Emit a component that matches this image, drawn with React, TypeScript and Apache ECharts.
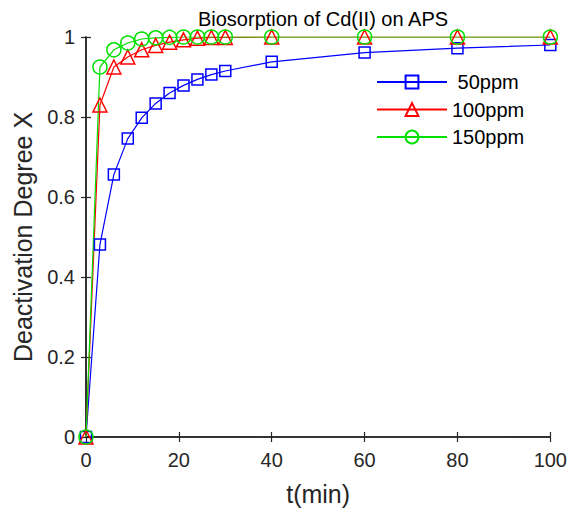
import React, { useEffect, useRef } from "react";
import * as echarts from "echarts";

const times = [0, 3, 6, 9, 12, 15, 18, 21, 24, 27, 30, 40, 60, 80, 100];
const ppm50 = [0, 0.481, 0.656, 0.746, 0.798, 0.834, 0.86, 0.879, 0.894, 0.906, 0.915, 0.938, 0.961, 0.972, 0.98];
const ppm100 = [0, 0.83, 0.925, 0.95, 0.968, 0.979, 0.987, 0.993, 0.997, 0.999, 0.999, 1, 1, 1, 1];
const ppm150 = [0, 0.925, 0.968, 0.985, 0.995, 0.998, 0.999, 1, 1, 1, 1, 1, 1, 1, 1];
const seriesNames = ["50ppm", "100ppm", "150ppm"];

const FONT = "Liberation Sans, Arial, sans-serif";
const AX = "#262626";

export default function App() {
  const ref = useRef<HTMLDivElement>(null);
  useEffect(() => {
    const chart = echarts.init(ref.current!, null, { renderer: "svg" });
    const mk = (vals: number[]) => times.map((t, i) => [t, vals[i]]);
    const axisCommon = {
      min: 0,
      axisLine: { show: true, lineStyle: { color: AX, width: 1.5 } },
      axisTick: { show: true, inside: true, length: 5, lineStyle: { color: AX, width: 1.2 } },
      splitLine: { show: false },
    };
    chart.setOption({
      animation: false,
      backgroundColor: "#fff",
      textStyle: { fontFamily: FONT },
      title: {
        text: "Biosorption of Cd(II) on APS",
        left: 318,
        textAlign: "center",
        top: 4,
        textStyle: { fontFamily: FONT, fontSize: 20, fontWeight: "normal", color: "#000" },
      },
      legend: {
        orient: "vertical",
        left: 371,
        top: 67,
        itemWidth: 70,
        itemHeight: 16,
        itemGap: 7.5,
        data: seriesNames,
        formatter: (name: string) => (name === seriesNames[0] ? " " + name : name),
        textStyle: { fontFamily: FONT, fontSize: 20, color: "#000" },
      },
      grid: { left: 86, right: 18, top: 37, bottom: 78 },
      xAxis: [
        {
          ...axisCommon,
          type: "value",
          max: 100,
          interval: 20,
          position: "bottom",
          name: "t(min)",
          nameLocation: "middle",
          nameGap: 44,
          nameTextStyle: { fontFamily: FONT, fontSize: 25, color: AX },
          axisLabel: { fontFamily: FONT, fontSize: 20, color: AX, margin: 13 },
        },
        {
          ...axisCommon,
          type: "value",
          max: 100,
          interval: 20,
          position: "top",
          axisLabel: { show: false },
        },
      ],
      yAxis: [
        {
          ...axisCommon,
          type: "value",
          max: 1,
          interval: 0.2,
          position: "left",
          name: "Deactivation Degree X",
          nameLocation: "middle",
          nameGap: 51,
          nameTextStyle: { fontFamily: FONT, fontSize: 25, color: AX },
          axisLabel: { fontFamily: FONT, fontSize: 20, color: AX, margin: 11 },
        },
        {
          ...axisCommon,
          type: "value",
          max: 1,
          interval: 0.2,
          position: "right",
          axisLabel: { show: false },
        },
      ],
      series: [
        {
          name: seriesNames[0],
          type: "line",
          data: mk(ppm50),
          symbol: "rect",
          symbolSize: 11,
          lineStyle: { color: "#0000ff", width: 1.2 },
          itemStyle: { color: "rgba(0,0,0,0)", borderColor: "#0000ff", borderWidth: 1.5 },
          color: "#0000ff",
        },
        {
          name: seriesNames[1],
          type: "line",
          data: mk(ppm100),
          symbol: "triangle",
          symbolSize: 14,
          lineStyle: { color: "#ff0000", width: 1.2 },
          itemStyle: { color: "rgba(0,0,0,0)", borderColor: "#ff0000", borderWidth: 1.5 },
          color: "#ff0000",
        },
        {
          name: seriesNames[2],
          type: "line",
          data: mk(ppm150),
          symbol: "circle",
          symbolSize: 14,
          lineStyle: { color: "#00e000", width: 1.2 },
          itemStyle: { color: "rgba(0,0,0,0)", borderColor: "#00e000", borderWidth: 1.5 },
          color: "#00e000",
        },
      ],
    });
    return () => chart.dispose();
  }, []);
  return (
    <div
      ref={ref}
      style={{ position: "absolute", left: 0, top: 0, width: 570, height: 515 }}
    />
  );
}
